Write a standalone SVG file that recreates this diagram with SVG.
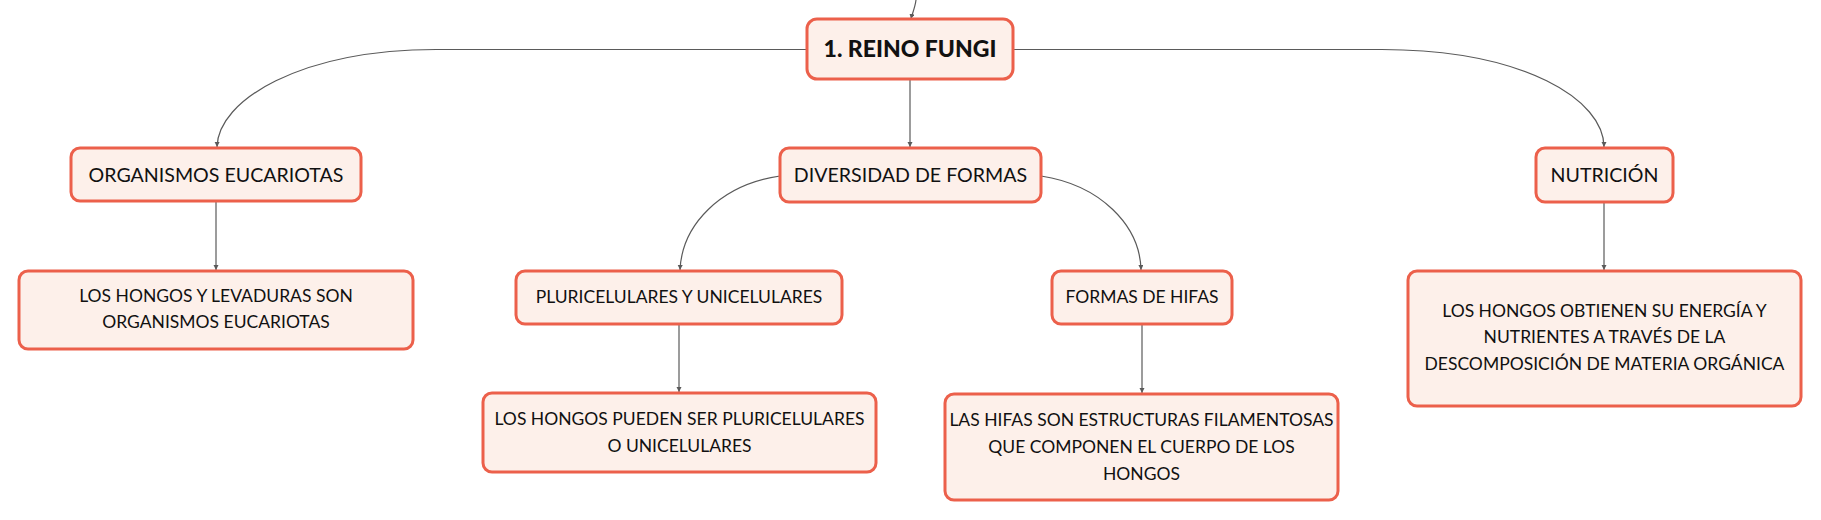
<svg xmlns="http://www.w3.org/2000/svg" width="1821" height="520" viewBox="0 0 1821 520">
<style>
.box{fill:#fdf0ea;stroke:#ec604b;stroke-width:3}
.t{font-family:Lato,"Open Sans","Liberation Sans",sans-serif;font-size:17.5px;fill:#111;text-anchor:middle}
.l1{font-size:19.6px}
.b{font-weight:900;font-size:23px}
.c{fill:none;stroke:#5a5a5a;stroke-width:1.2;marker-end:url(#a)}
</style>
<defs>
<marker id="a" markerUnits="userSpaceOnUse" markerWidth="6" markerHeight="6" refX="5" refY="2.5" orient="auto">
<path d="M0,0 L5,2.5 L0,5 z" fill="#5a5a5a"/>
</marker>
</defs>
<rect width="1821" height="520" fill="#fff"/>
<g id="connectors">
<path class="c" d="M916,0 C915,8 912,14 911,19"/>
<path class="c" d="M807,49.5 L436,49.5 C300,50 218,100 217,147"/>
<path class="c" d="M1013,49.5 L1382,49.5 C1525,50 1604,100 1604,147"/>
<path class="c" d="M910,79 L910,147"/>
<path class="c" d="M780,176 C720,185 682,225 680,270"/>
<path class="c" d="M1041,176 C1100,185 1140,225 1141,270"/>
<path class="c" d="M216,201 L216,270"/>
<path class="c" d="M679,324 L679,392"/>
<path class="c" d="M1142,324 L1142,393"/>
<path class="c" d="M1604,202 L1604,270"/>
</g>
<g id="root"><rect class="box" x="807" y="19" width="206" height="60" rx="10"/><text class="t b" x="910" y="57">1. REINO FUNGI</text></g>
<g id="organismos"><rect class="box" x="71" y="148" width="290" height="53" rx="9"/><text class="t l1" x="216" y="182">ORGANISMOS EUCARIOTAS</text></g>
<g id="diversidad"><rect class="box" x="780" y="148" width="261" height="54" rx="9"/><text class="t l1" x="910.5" y="182">DIVERSIDAD DE FORMAS</text></g>
<g id="nutricion"><rect class="box" x="1536" y="148" width="137" height="54" rx="9"/><text class="t l1" x="1604.5" y="182">NUTRICIÓN</text></g>
<g id="levaduras"><rect class="box" x="19" y="271" width="394" height="78" rx="9"/><text class="t" x="216" y="302">LOS HONGOS Y LEVADURAS SON</text><text class="t" x="216" y="328">ORGANISMOS EUCARIOTAS</text></g>
<g id="pluricelulares"><rect class="box" x="516" y="271" width="326" height="53" rx="9"/><text class="t" x="679" y="303">PLURICELULARES Y UNICELULARES</text></g>
<g id="hifas"><rect class="box" x="1052" y="271" width="180" height="53" rx="9"/><text class="t" x="1142" y="303">FORMAS DE HIFAS</text></g>
<g id="obtienen"><rect class="box" x="1408" y="271" width="393" height="135" rx="9"/><text class="t" x="1604.5" y="317">LOS HONGOS OBTIENEN SU ENERGÍA Y</text><text class="t" x="1604.5" y="343">NUTRIENTES A TRAVÉS DE LA</text><text class="t" x="1604.5" y="370">DESCOMPOSICIÓN DE MATERIA ORGÁNICA</text></g>
<g id="pueden"><rect class="box" x="483" y="393" width="393" height="79" rx="9"/><text class="t" x="679.5" y="425">LOS HONGOS PUEDEN SER PLURICELULARES</text><text class="t" x="679.5" y="452">O UNICELULARES</text></g>
<g id="estructuras"><rect class="box" x="945" y="394" width="393" height="106" rx="9"/><text class="t" x="1141.5" y="426">LAS HIFAS SON ESTRUCTURAS FILAMENTOSAS</text><text class="t" x="1141.5" y="453">QUE COMPONEN EL CUERPO DE LOS</text><text class="t" x="1141.5" y="480">HONGOS</text></g>
</svg>
